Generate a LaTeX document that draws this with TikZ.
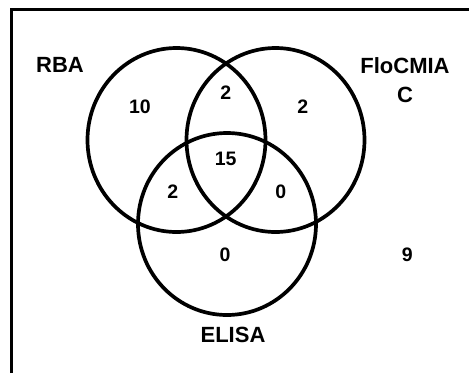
\documentclass[tikz,border=0pt]{standalone}
\usepackage{fontspec}
\setmainfont{Liberation Sans}
\begin{document}
\begin{tikzpicture}[x=1pt,y=-1pt,
  setline/.style={line width=3.7pt},
  framel/.style={line width=3pt},
  setlabel/.style={inner sep=0pt,align=center,font=\fontsize{22}{26}\selectfont\bfseries},
  count/.style={inner sep=0pt,font=\fontsize{19.5}{22}\selectfont\bfseries}]
\useasboundingbox (0,0) rectangle (469,373);
% frame
\coordinate (fb) at (11.5,373);
\coordinate (fc) at (11.5,9.5);
\coordinate (fr) at (469,9.5);
\draw[framel] (fb) -- (fc) -- (fr);
% circles
\coordinate (cR) at (176.5,140);
\coordinate (cF) at (275.5,140);
\coordinate (cE) at (227,224);
\draw[setline] (cR) ellipse [x radius=89, y radius=92];
\draw[setline] (cF) ellipse [x radius=89, y radius=92];
\draw[setline] (cE) ellipse [x radius=89, y radius=91];
% labels
\node[setlabel] (lR) at (60,65) {RBA};
\node[setlabel,anchor=north] (lF) at (405,57) {FloCMIA\\[3pt]C};
\node[setlabel] (lE) at (233,335) {ELISA};
% counts
\node[count] (n10) at (140,107) {10};
\node[count] (nRF) at (225.7,93) {2};
\node[count] (nF) at (302.7,107) {2};
\node[count] (nAll) at (225.7,159) {15};
\node[count] (nRE) at (172.7,191.7) {2};
\node[count] (nFE) at (280.7,191.7) {0};
\node[count] (nE) at (225,255) {0};
\node[count] (nOut) at (407.3,255) {9};
\end{tikzpicture}
\end{document}
